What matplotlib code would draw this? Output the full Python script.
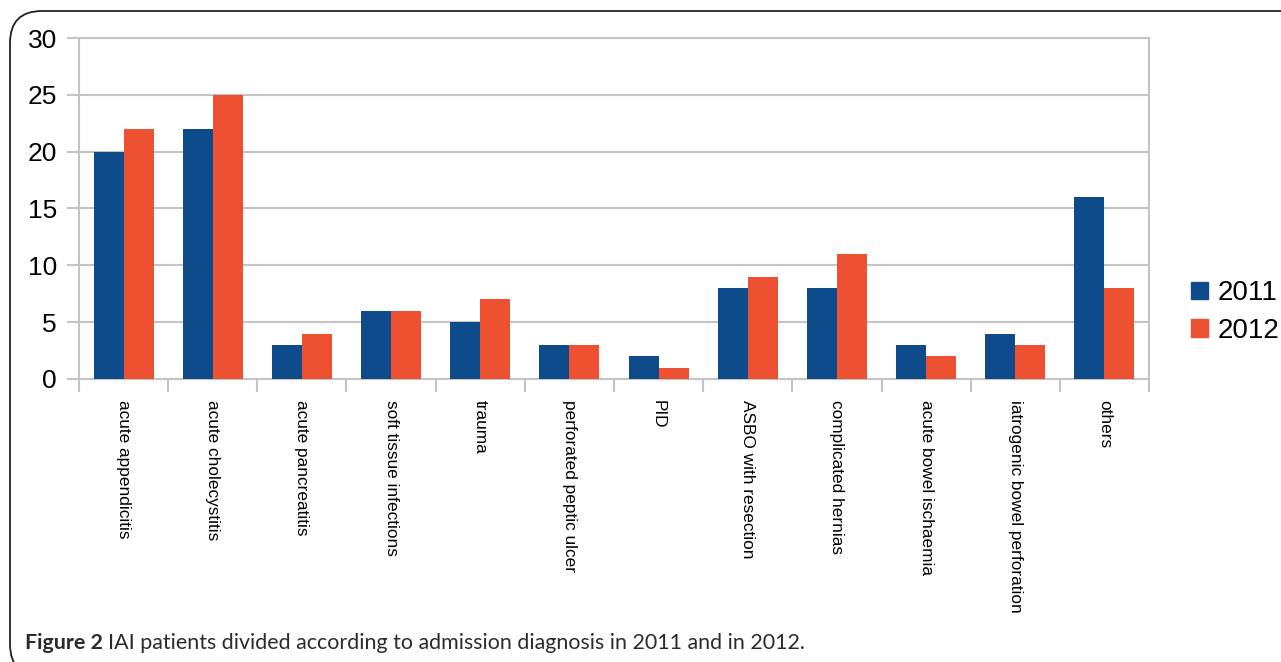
import matplotlib
matplotlib.use("Agg")
import matplotlib.pyplot as plt
from matplotlib.patches import FancyBboxPatch, Patch
import numpy as np

categories = ["acute appendicitis", "acute cholecystitis", "acute pancreatitis",
              "soft tissue infections", "trauma", "perforated peptic ulcer", "PID",
              "ASBO with resection", "complicated hernias", "acute bowel ischaemia",
              "iatrogenic bowel perforation", "others"]
values_2011 = [20, 22, 3, 6, 5, 3, 2, 8, 8, 3, 4, 16]
values_2012 = [22, 25, 4, 6, 7, 3, 1, 9, 11, 2, 3, 8]
series_labels = ["2011", "2012"]
y_ticks = [0, 5, 10, 15, 20, 25, 30]

BLUE = "#0D4B8A"
ORANGE = "#EE5032"
GRID = "#C4C4C4"

W, H = 1281, 662
fig = plt.figure(figsize=(W / 100, H / 100), dpi=100)
fig.patch.set_facecolor("white")

# rounded outer frame (runs off the right and bottom edges)
frame = FancyBboxPatch((10 / W, -14 / H), (W + 40) / W, (651 + 14) / H,
                       boxstyle="round,pad=0,rounding_size=0.025",
                       transform=fig.transFigure, fill=False,
                       edgecolor="#222222", linewidth=1.3, clip_on=False,
                       mutation_aspect=W / H)
fig.patches.append(frame)

ax = fig.add_axes([79 / W, 1 - 379 / H, (1149 - 79) / W, (379 - 38) / H])
x = np.arange(len(categories))
bw = 0.337
ax.bar(x - bw / 2, values_2011, width=bw, color=BLUE, zorder=3)
ax.bar(x + bw / 2, values_2012, width=bw, color=ORANGE, zorder=3)

ax.set_xlim(-0.5, len(categories) - 0.5)
ax.set_ylim(0, 30)
ax.set_yticks(y_ticks)
ax.set_yticklabels([str(t) for t in y_ticks], fontsize=19, family="Liberation Sans")
ax.yaxis.grid(True, color=GRID, linewidth=1.5, zorder=0)
ax.set_axisbelow(True)

ax.set_xticks(x)
ax.set_xticklabels(categories, rotation=-90, fontsize=12.4, family="Liberation Sans",
                   va="top", ha="center")
# boundary ticks between categories
ax.set_xticks(np.arange(-0.5, len(categories) + 0.5, 1), minor=True)
ax.tick_params(axis="x", which="minor", length=9, width=1.5, color=GRID)
ax.tick_params(axis="x", which="major", length=0, pad=15)
ax.tick_params(axis="y", length=9, width=1.5, color=GRID, pad=7)
for s in ax.spines.values():
    s.set_color(GRID)
    s.set_linewidth(1.5)

handles = [Patch(facecolor=BLUE, edgecolor=BLUE), Patch(facecolor=ORANGE, edgecolor=ORANGE)]
fig.legend(handles, series_labels, loc="center left",
           bbox_to_anchor=(1191 / W, 1 - 312 / H), frameon=False,
           prop={"family": "Liberation Sans", "size": 20},
           handlelength=0.6, handleheight=0.6, handletextpad=0.35,
           labelspacing=0.42, borderaxespad=0, borderpad=0)

# caption
cap_y = 1 - 643 / H
t1 = fig.text(25 / W, cap_y, "Figure 2", fontsize=15.4, fontweight="bold",
              family="Lato", color="#2B2B2B", va="center", ha="left")
fig.canvas.draw()
bb = t1.get_window_extent()
fig.text((bb.x1 + 5) / W, cap_y, "IAI patients divided according to admission diagnosis in 2011 and in 2012.",
         fontsize=15.4, family="Lato", color="#2B2B2B", va="center", ha="left")

fig.savefig("out.png", dpi=100, facecolor="white")
